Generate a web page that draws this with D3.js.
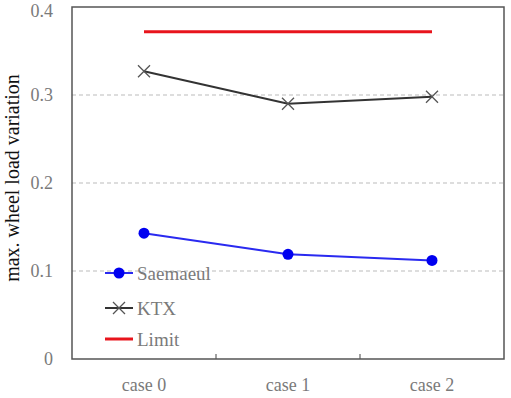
<!DOCTYPE html>
<html>
<head>
<meta charset="UTF-8">
<script src="https://cdn.jsdelivr.net/npm/d3@7"></script>
</head>
<body style="margin:0;background:#fff">
<svg id="chart" width="511" height="398" font-family="'Liberation Serif', serif"></svg>
<script>
// chart data
var cases = ["case 0", "case 1", "case 2"];
var saemaeul = [0.143, 0.119, 0.112];
var ktx = [0.327, 0.290, 0.298];
var limit = [0.372, 0.372, 0.372];
var yTicks = [0, 0.1, 0.2, 0.3, 0.4];
var legendNames = ["Saemaeul", "KTX", "Limit"];

var margin = {left: 72, top: 7, right: 7, bottom: 40};
var W = 511, H = 398;
var svg = d3.select("#chart");
var serif = "'Liberation Serif', serif";

var x = d3.scaleBand().domain(cases).range([margin.left, W - margin.right]);
var y = d3.scaleLinear().domain([0, 0.4]).range([H - margin.bottom + 1, margin.top]);
var cx = function(d, i) { return x(cases[i]) + x.bandwidth() / 2; };

// dashed grid
svg.selectAll(".grid").data(yTicks.filter(function(t) { return t > 0 && t < 0.4; }))
  .enter().append("line")
  .attr("x1", margin.left).attr("x2", W - margin.right)
  .attr("y1", function(d) { return y(d); }).attr("y2", function(d) { return y(d); })
  .attr("stroke", "#bbb").attr("stroke-width", 1).attr("stroke-dasharray", "4,3");

// y tick labels
var yAxis = d3.axisLeft(y).tickValues(yTicks).tickSize(0).tickPadding(19)
  .tickFormat(function(d) { return d === 0 ? "0" : d3.format(".1f")(d); });
var gy = svg.append("g").attr("transform", "translate(" + margin.left + ",0)").call(yAxis)
  .attr("font-family", serif).attr("font-size", 18);
gy.select(".domain").remove();
gy.selectAll("text").attr("fill", "#7a7a7a");
// top label sits against the edge, nudge it down so it is not clipped
gy.selectAll(".tick text").filter(function(d) { return d === 0.4; }).attr("dy", "0.52em");

// x axis with inner ticks on band edges
var gx = svg.append("g").attr("transform", "translate(0," + y(0) + ")");
gx.selectAll(".xt").data(cases.slice(1)).enter().append("line")
  .attr("x1", function(d) { return x(d); }).attr("x2", function(d) { return x(d); })
  .attr("y1", 0).attr("y2", -5).attr("stroke", "#444");
gx.selectAll(".xl").data(cases).enter().append("text")
  .attr("x", function(d) { return x(d) + x.bandwidth() / 2; })
  .attr("y", 32).attr("text-anchor", "middle")
  .attr("fill", "#7a7a7a").attr("font-family", serif).attr("font-size", 18)
  .text(function(d) { return d; });

// frame
svg.append("rect")
  .attr("x", margin.left).attr("y", margin.top)
  .attr("width", W - margin.right - margin.left).attr("height", y(0) - margin.top)
  .attr("fill", "none").attr("stroke", "#555").attr("stroke-width", 1.5);

// y label
svg.append("text")
  .attr("transform", "translate(18.5,178) rotate(-90)")
  .attr("text-anchor", "middle").attr("fill", "#111")
  .attr("font-family", serif).attr("font-size", 20)
  .text("max. wheel load variation");

var line = d3.line().x(cx).y(function(d) { return y(d); });

// Limit
svg.append("path").datum(limit).attr("d", line)
  .attr("fill", "none").attr("stroke", "#e8141c").attr("stroke-width", 3);

// KTX
svg.append("path").datum(ktx).attr("d", line)
  .attr("fill", "none").attr("stroke", "#333").attr("stroke-width", 2);
function cross(g, px, py, s) {
  g.append("path")
    .attr("d", "M" + (px - s) + "," + (py - s) + "L" + (px + s) + "," + (py + s) +
               "M" + (px - s) + "," + (py + s) + "L" + (px + s) + "," + (py - s))
    .attr("stroke", "#555").attr("stroke-width", 1.3).attr("fill", "none");
}
ktx.forEach(function(d, i) { cross(svg, cx(d, i), y(d), 6); });

// Saemaeul
svg.append("path").datum(saemaeul).attr("d", line)
  .attr("fill", "none").attr("stroke", "#2a2af0").attr("stroke-width", 2);
svg.selectAll(".sm").data(saemaeul).enter().append("circle")
  .attr("cx", cx).attr("cy", function(d) { return y(d); }).attr("r", 5.5)
  .attr("fill", "#0000f0");

// legend
var lg = svg.append("g");
var ly = [273, 308, 339];
var lx1 = 105, lx2 = 133;
lg.append("line").attr("x1", lx1).attr("x2", lx2).attr("y1", ly[0]).attr("y2", ly[0])
  .attr("stroke", "#2a2af0").attr("stroke-width", 2);
lg.append("circle").attr("cx", (lx1 + lx2) / 2).attr("cy", ly[0]).attr("r", 5.5).attr("fill", "#0000f0");
lg.append("line").attr("x1", lx1).attr("x2", lx2).attr("y1", ly[1]).attr("y2", ly[1])
  .attr("stroke", "#333").attr("stroke-width", 2);
cross(lg, (lx1 + lx2) / 2, ly[1], 6);
lg.append("line").attr("x1", lx1).attr("x2", lx2).attr("y1", ly[2]).attr("y2", ly[2])
  .attr("stroke", "#e8141c").attr("stroke-width", 3);
lg.selectAll(".lt").data(legendNames).enter().append("text")
  .attr("x", 137).attr("y", function(d, i) { return ly[i] + 7; })
  .attr("fill", "#7a7a7a").attr("font-family", serif).attr("font-size", 19)
  .text(function(d) { return d; });
</script>
</body>
</html>
